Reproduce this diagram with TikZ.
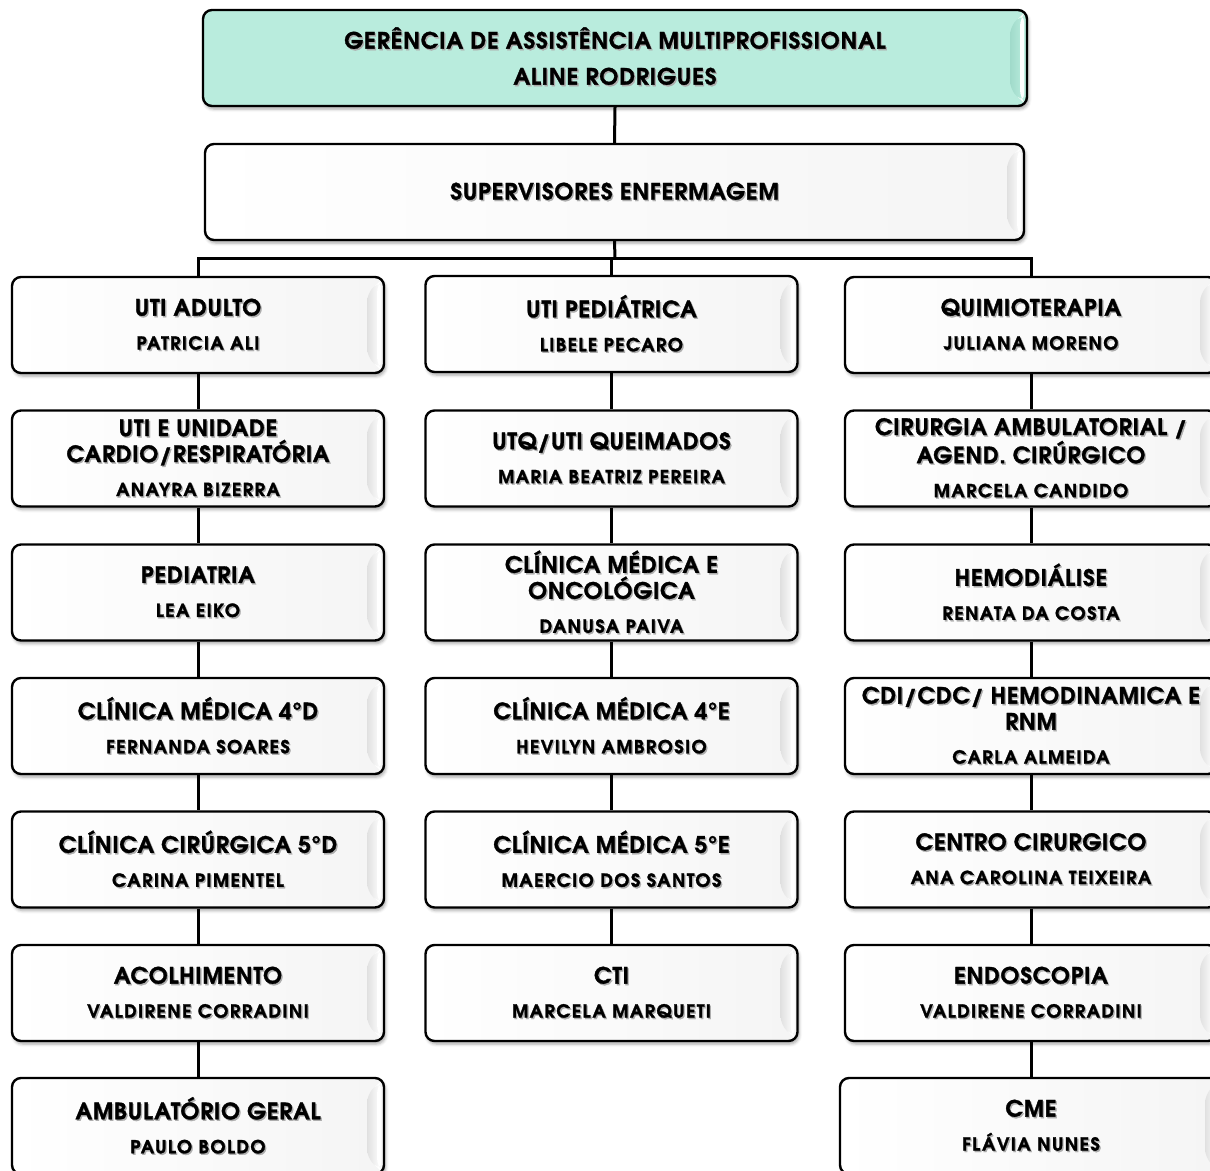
\documentclass[tikz,border=0pt]{standalone}
\usepackage{fontspec}
\setmainfont{TeX Gyre Adventor}
\newfontfamily\tfam{TeX Gyre Adventor}[LetterSpace=3.5, BoldFeatures={FakeBold=1.5}]
\newfontfamily\nfam{TeX Gyre Adventor}[LetterSpace=8, BoldFeatures={FakeBold=1.5}]
\newfontfamily\cfam{TeX Gyre Adventor}[LetterSpace=4, BoldFeatures={FakeBold=1.5}]
\usetikzlibrary{calc,shadows.blur}
\definecolor{teal1}{RGB}{185,236,221}
\definecolor{teal2}{RGB}{160,218,202}
\newcommand\tf{\tfam\fontsize{22.5}{26}\selectfont\bfseries}
\newcommand\nf{\nfam\fontsize{18}{20}\selectfont\bfseries}
\newcommand\cf{\cfam\fontsize{22.5}{26}\selectfont\bfseries}
\newcommand\shd[1]{\makebox[0pt][l]{\hspace{1.3pt}\raisebox{-1.5pt}{\textcolor{black!32}{#1}}}#1}
\newcommand\tl[1]{{\tf\shd{#1}}}
\newcommand\nl[1]{{\nf\shd{#1}}}
\newcommand\two[2]{\tl{#1}\\[8pt]\nl{#2}}
\newcommand\three[3]{\tl{#1}\\\tl{#2}\\[8pt]\nl{#3}}
\tikzset{
  bevel/.style n args={3}{path picture={
    \path (path picture bounding box.north east) coordinate (pNE)
          (path picture bounding box.south east) coordinate (pSE)
          (path picture bounding box.north west) coordinate (pNW);
    \shade[left color=#1, right color=#3] (pNW) rectangle (pSE);
    \shade[left color=#2, right color=#1] ($(pNE)+(-3,3)$) -- ($(pNE)+(-17,16)$) -- ($(pSE)+(-17,-16)$) -- ($(pSE)+(-3,-3)$) -- cycle;
    \fill[white] ($(pNE)+(-3,3)$) -- ($(pNE)+(-7,7)$) -- ($(pSE)+(-7,-7)$) -- ($(pSE)+(-3,-3)$) -- cycle;
  }},
  orgbox/.style={draw=black, line width=2.4pt, rounded corners=9pt,
    minimum width=372pt, minimum height=96pt, inner sep=0pt, align=center,
    font=\tf, fill=white, bevel={white}{black!12}{black!4},
    blur shadow={shadow xshift=1.5pt, shadow yshift=-3pt, shadow blur radius=3pt, shadow opacity=35}},
  conn/.style={draw=black, line width=3pt}
}
\begin{document}
\begin{tikzpicture}[x=1pt,y=-1pt]
\useasboundingbox (0,0) rectangle (1210,1170);
% top
\node[orgbox, minimum width=824pt, fill=teal1, bevel={teal1}{teal2}{teal1}, font=\cf, text depth=4pt] (top) at (615,58)
  {{\cf\shd{GERÊNCIA DE ASSISTÊNCIA MULTIPROFISSIONAL}}\\[10pt]{\cf\shd{ALINE RODRIGUES}}};
\node[orgbox, minimum width=819pt, font=\cf] (sup) at (614.5,192) {{\cf\shd{SUPERVISORES ENFERMAGEM}}};
% left column
\node[orgbox] (L1) at (198,325) {\two{UTI ADULTO}{PATRICIA ALI}};
\node[orgbox] (L2) at (198,458.5) {\three{UTI E UNIDADE}{CARDIO/RESPIRATÓRIA}{ANAYRA BIZERRA}};
\node[orgbox] (L3) at (198,592.5) {\two{PEDIATRIA}{LEA EIKO}};
\node[orgbox] (L4) at (198,726) {\two{CLÍNICA MÉDICA 4°D}{FERNANDA SOARES}};
\node[orgbox] (L5) at (198,859.5) {\two{CLÍNICA CIRÚRGICA 5°D}{CARINA PIMENTEL}};
\node[orgbox] (L6) at (198,993) {\two{ACOLHIMENTO}{VALDIRENE CORRADINI}};
\node[orgbox] (L7) at (198,1126) {\two{AMBULATÓRIO GERAL}{PAULO BOLDO}};
% middle column
\node[orgbox] (M1) at (611.5,324) {\two{UTI PEDIÁTRICA}{LIBELE PECARO}};
\node[orgbox] (M2) at (611.5,458.5) {\two{UTQ/UTI QUEIMADOS}{MARIA BEATRIZ PEREIRA}};
\node[orgbox] (M3) at (611.5,592.5) {\three{CLÍNICA MÉDICA E}{ONCOLÓGICA}{DANUSA PAIVA}};
\node[orgbox] (M4) at (611.5,726) {\two{CLÍNICA MÉDICA 4°E}{HEVILYN AMBROSIO}};
\node[orgbox] (M5) at (611.5,859.5) {\two{CLÍNICA MÉDICA 5°E}{MAERCIO DOS SANTOS}};
\node[orgbox] (M6) at (611.5,993) {\two{CTI}{MARCELA MARQUETI}};
% right column
\node[orgbox] (R1) at (1031,325) {\two{QUIMIOTERAPIA}{JULIANA MORENO}};
\node[orgbox] (R2) at (1031,458.5) {\three{CIRURGIA AMBULATORIAL /}{AGEND. CIRÚRGICO}{MARCELA CANDIDO}};
\node[orgbox] (R3) at (1031,592.5) {\two{HEMODIÁLISE}{RENATA DA COSTA}};
\node[orgbox] (R4) at (1031,726) {\three{CDI/CDC/ HEMODINAMICA E}{RNM}{CARLA ALMEIDA}};
\node[orgbox] (R5) at (1031,859.5) {\two{CENTRO CIRURGICO}{ANA CAROLINA TEIXEIRA}};
\node[orgbox] (R6) at (1031,993) {\two{ENDOSCOPIA}{VALDIRENE CORRADINI}};
\node[orgbox, minimum width=382pt] (R7) at (1031,1126) {\two{CME}{FLÁVIA NUNES}};
% connectors
\coordinate (bar) at (615,258);
\draw[conn] (top.south) -- (sup.north);
\draw[conn] (sup.south) -- (bar);
\draw[conn] (L1.north) |- (bar) -| (R1.north);
\draw[conn] (M1.north) -- (M1.north |- bar);
\foreach \c/\n in {1/2,2/3,3/4,4/5,5/6,6/7} {
  \draw[conn] (L\c.south) -- (L\n.north);
  \draw[conn] (R\c.south) -- (R\n.north);
}
\foreach \c/\n in {1/2,2/3,3/4,4/5,5/6} {
  \draw[conn] (M\c.south) -- (M\n.north);
}
\end{tikzpicture}
\end{document}
